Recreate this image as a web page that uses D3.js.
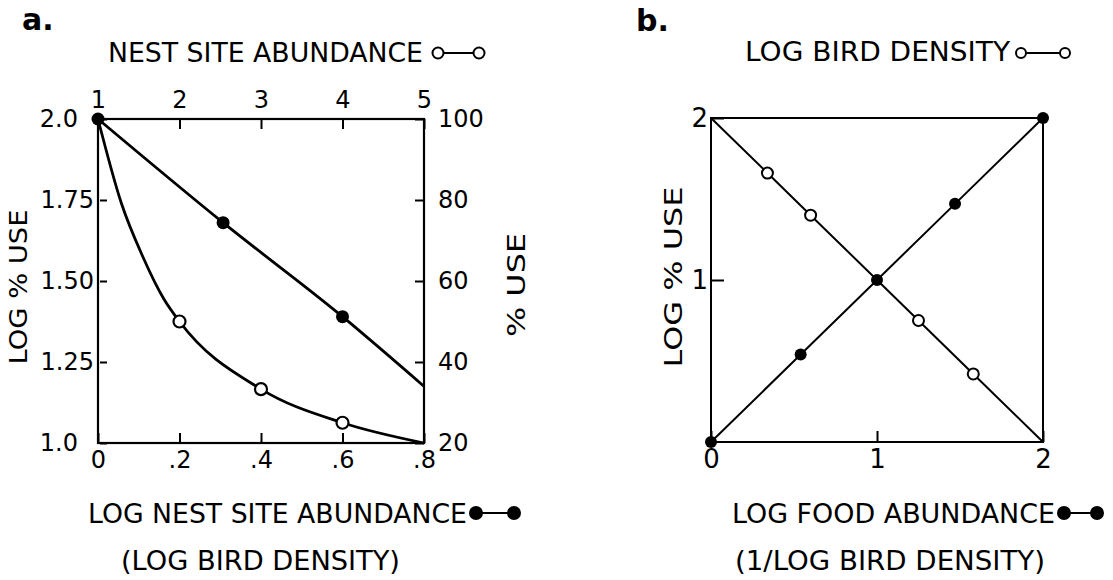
<!DOCTYPE html>
<html>
<head>
<meta charset="utf-8">
<script src="https://cdn.jsdelivr.net/npm/d3@7"></script>
<style>
  body { margin: 0; background: #fff; }
  svg { display: block; }
  text { font-family: "DejaVu Sans", sans-serif; fill: #000; }
</style>
</head>
<body>
<script>
// ---------- Panel a data ----------
// open circles: % use vs nest site abundance (top & right axes)
const nestAbundance = [1, 1.29, 1.55, 1.81, 2, 3, 4, 5];
const pctUse        = [100, 79, 66, 55.5, 50, 33.3, 25, 20];
const nestMarked    = [false, false, false, false, true, true, true, false];
// filled circles: log % use vs log nest site abundance (bottom & left axes)
const logNest       = [0, 0.307, 0.6, 0.8];
const logPctUse     = [2.0, 1.68, 1.39, 1.175];
const logNestMarked = [true, true, true, false];

const aTopTicks = [1, 2, 3, 4, 5];
const aBottomTicks = [0, 0.2, 0.4, 0.6, 0.8];
const aBottomLabels = ["0", ".2", ".4", ".6", ".8"];
const aLeftTicks = [1.0, 1.25, 1.5, 1.75, 2.0];
const aLeftLabels = ["1.0", "1.25", "1.50", "1.75", "2.0"];
const aRightTicks = [20, 40, 60, 80, 100];

// ---------- Panel b data ----------
// open circles: log % use vs log bird density
const logBirdDensity = [0, 0.34, 0.60, 1, 1.25, 1.58, 2];
const logUseDensity  = [2, 1.66, 1.40, 1, 0.75, 0.42, 0];
const densityMarked  = [false, true, true, false, true, true, false];
// filled circles: log % use vs log food abundance
const logFood        = [0, 0.54, 1, 1.47, 2];
const logUseFood     = [0, 0.54, 1, 1.47, 2];

const bXTicks = [0, 1, 2];
const bYTicks = [1, 2];

// ---------- drawing ----------
const svg = d3.select("body").append("svg")
  .attr("width", 1113).attr("height", 580);

function label(g, txt, x1, x2, baseline, size) {
  g.append("text").attr("x", x1).attr("y", baseline)
    .attr("font-size", size)
    .attr("textLength", x2 - x1).attr("lengthAdjust", "spacingAndGlyphs")
    .text(txt);
}
function vlabel(g, txt, xBase, yCenter, len, size) {
  g.append("text").attr("transform", `translate(${xBase},${yCenter}) rotate(-90)`)
    .attr("text-anchor", "middle").attr("font-size", size)
    .attr("textLength", len).attr("lengthAdjust", "spacingAndGlyphs")
    .text(txt);
}
function legend(g, x1, x2, y, filled, r, sw) {
  g.append("line").attr("x1", x1).attr("x2", x2).attr("y1", y).attr("y2", y)
    .attr("stroke", "#000").attr("stroke-width", sw);
  [x1, x2].forEach(x => g.append("circle").attr("cx", x).attr("cy", y).attr("r", r)
    .attr("fill", filled ? "#000" : "#fff").attr("stroke", "#000").attr("stroke-width", 2));
}
function styleAxis(sel, size) {
  sel.select(".domain").remove();
  sel.selectAll(".tick line").attr("stroke", "#000").attr("stroke-width", 2);
  sel.selectAll(".tick text").attr("font-size", size).attr("fill", "#000")
    .attr("font-family", '"DejaVu Sans", sans-serif');
}

// ===== Panel a =====
const A = { l: 98, r: 424, t: 119, b: 443 };
const xA = d3.scaleLinear().domain([0, 0.8]).range([A.l, A.r]);
const xAtop = d3.scaleLinear().domain([1, 5]).range([A.l, A.r]);
const yA = d3.scaleLinear().domain([1, 2]).range([A.b, A.t]);
const yAr = d3.scaleLinear().domain([20, 100]).range([A.b, A.t]);
const ga = svg.append("g");

ga.append("text").attr("x", 22).attr("y", 30).attr("font-size", 30)
  .attr("font-weight", "bold").text("a.");

// axes
const axB = ga.append("g").attr("transform", `translate(0,${A.b})`)
  .call(d3.axisBottom(xA).tickValues(aBottomTicks).tickSize(-10).tickPadding(8)
    .tickFormat((d, i) => aBottomLabels[i]));
styleAxis(axB, 24);
const axT = ga.append("g").attr("transform", `translate(0,${A.t})`)
  .call(d3.axisTop(xAtop).tickValues(aTopTicks).tickSize(-10).tickPadding(11)
    .tickFormat(d3.format("d")));
styleAxis(axT, 24);
const axL = ga.append("g").attr("transform", `translate(${A.l},0)`)
  .call(d3.axisLeft(yA).tickValues(aLeftTicks).tickSize(-9).tickPadding(4)
    .tickFormat((d, i) => aLeftLabels[i]));
styleAxis(axL, 24);
axL.selectAll(".tick line").attr("x1", 2);
axL.selectAll(".tick text").attr("x", d => (d === 2 || d === 1) ? -20 : -4);
const axR = ga.append("g").attr("transform", `translate(${A.r},0)`)
  .call(d3.axisRight(yAr).tickValues(aRightTicks).tickSize(-9).tickPadding(14)
    .tickFormat(d3.format("d")));
styleAxis(axR, 24);

ga.append("rect").attr("x", A.l).attr("y", A.t).attr("width", A.r - A.l).attr("height", A.b - A.t)
  .attr("fill", "none").attr("stroke", "#000").attr("stroke-width", 2.2);

// lines
const openA = nestAbundance.map((n, i) => ({ x: xAtop(n), y: yAr(pctUse[i]), m: nestMarked[i] }));
const fillA = logNest.map((n, i) => ({ x: xA(n), y: yA(logPctUse[i]), m: logNestMarked[i] }));
const lineA = d3.line().x(d => d.x).y(d => d.y).curve(d3.curveMonotoneX);
ga.append("path").attr("d", lineA(openA)).attr("fill", "none").attr("stroke", "#000").attr("stroke-width", 2.8);
ga.append("path").attr("d", lineA(fillA)).attr("fill", "none").attr("stroke", "#000").attr("stroke-width", 2.8);
ga.selectAll(".oa").data(openA.filter(d => d.m)).join("circle")
  .attr("cx", d => d.x).attr("cy", d => d.y).attr("r", 6)
  .attr("fill", "#fff").attr("stroke", "#000").attr("stroke-width", 2.2);
ga.selectAll(".fa").data(fillA.filter(d => d.m)).join("circle")
  .attr("cx", d => d.x).attr("cy", d => d.y).attr("r", 6.5).attr("fill", "#000");

// titles
label(ga, "NEST SITE ABUNDANCE", 108, 423, 62, 27);
legend(ga, 438, 479, 53, false, 5.5, 2.2);
label(ga, "LOG NEST SITE ABUNDANCE", 88, 467, 523, 27);
legend(ga, 476, 514, 513, true, 6, 2.2);
label(ga, "(LOG BIRD DENSITY)", 121, 400, 570, 27);
vlabel(ga, "LOG % USE", 27, 287, 155, 25);
vlabel(ga, "% USE", 525, 285, 104, 25);

// ===== Panel b =====
const B = { l: 711, r: 1043, t: 118, b: 442 };
const xB = d3.scaleLinear().domain([0, 2]).range([B.l, B.r]);
const yB = d3.scaleLinear().domain([0, 2]).range([B.b, B.t]);
const gb = svg.append("g");

gb.append("text").attr("x", 636).attr("y", 31).attr("font-size", 30)
  .attr("font-weight", "bold").text("b.");

const bxAx = gb.append("g").attr("transform", `translate(0,${B.b})`)
  .call(d3.axisBottom(xB).tickValues(bXTicks).tickSize(-11).tickPadding(8)
    .tickFormat(d3.format("d")));
styleAxis(bxAx, 26);
const byAx = gb.append("g").attr("transform", `translate(${B.l},0)`)
  .call(d3.axisLeft(yB).tickValues(bYTicks).tickSize(-13).tickPadding(3)
    .tickFormat(d3.format("d")));
styleAxis(byAx, 26);

gb.append("rect").attr("x", B.l).attr("y", B.t).attr("width", B.r - B.l).attr("height", B.b - B.t)
  .attr("fill", "none").attr("stroke", "#000").attr("stroke-width", 2);

const openB = logBirdDensity.map((v, i) => ({ x: xB(v), y: yB(logUseDensity[i]), m: densityMarked[i] }));
const fillB = logFood.map((v, i) => ({ x: xB(v), y: yB(logUseFood[i]) }));
const lineB = d3.line().x(d => d.x).y(d => d.y);
gb.append("path").attr("d", lineB(openB)).attr("fill", "none").attr("stroke", "#000").attr("stroke-width", 2);
gb.append("path").attr("d", lineB(fillB)).attr("fill", "none").attr("stroke", "#000").attr("stroke-width", 2);
gb.selectAll(".ob").data(openB.filter(d => d.m)).join("circle")
  .attr("cx", d => d.x).attr("cy", d => d.y).attr("r", 5.5)
  .attr("fill", "#fff").attr("stroke", "#000").attr("stroke-width", 2);
gb.selectAll(".fb").data(fillB).join("circle")
  .attr("cx", d => d.x).attr("cy", d => d.y).attr("r", 6).attr("fill", "#000");

label(gb, "LOG BIRD DENSITY", 745, 1010, 61, 27);
legend(gb, 1021, 1065, 53, false, 5, 2.2);
label(gb, "LOG FOOD ABUNDANCE", 732, 1055, 523, 27);
legend(gb, 1064, 1097, 513, true, 6, 2.2);
label(gb, "(1/LOG BIRD DENSITY)", 735, 1045, 570, 27);
vlabel(gb, "LOG % USE", 682, 277, 181, 25);
</script>
</body>
</html>
